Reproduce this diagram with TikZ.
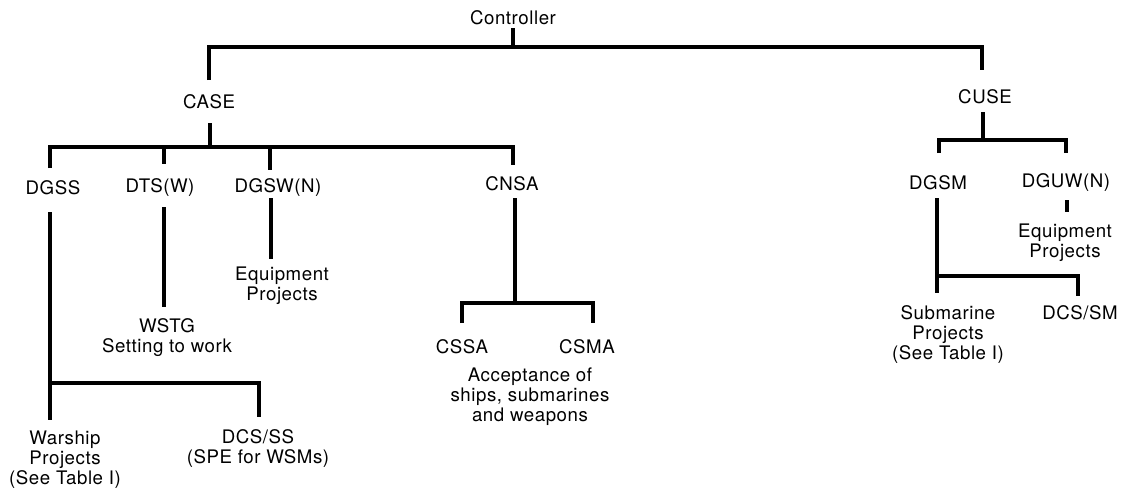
\documentclass[tikz,border=0pt]{standalone}
\usepackage{fontspec}
\setmainfont{TeX Gyre Heros}[LetterSpace=3]
\usetikzlibrary{calc}
\tikzset{
  lbl/.style={inner sep=0pt, align=center, font=\fontsize{14}{15}\selectfont},
  conn/.style={line width=2.4pt, line cap=butt, line join=miter, draw=black}
}
\begin{document}
\begin{tikzpicture}[x=0.75pt, y=-0.75pt]
\useasboundingbox (0,0) rectangle (1122,493);
% nodes
\node[lbl] (ctrl) at (513,18) {Controller};
\node[lbl] (case) at (209,102) {CASE};
\node[lbl] (cuse) at (985,97) {CUSE};
\node[lbl] (dgss) at (53,188) {DGSS};
\node[lbl] (dts) at (160,188) {DTS(W)};
\node[lbl] (dgsw) at (278,188) {DGSW(N)};
\node[lbl] (cnsa) at (512,184) {CNSA};
\node[lbl] (wstg) at (167,338) {WSTG\\Setting to work};
\node[lbl] (eq1) at (282,286) {Equipment\\Projects};
\node[lbl] (cssa) at (462,347) {CSSA};
\node[lbl] (csma) at (587,347) {CSMA};
\node[lbl] (accept) at (530,397) {Acceptance of\\ships, submarines\\and weapons};
\node[lbl] (warship) at (65,460) {Warship\\Projects\\(See Table I)};
\node[lbl] (dcsss) at (258,449) {DCS/SS\\(SPE for WSMs)};
\node[lbl] (dgsm) at (938,183) {DGSM};
\node[lbl] (dguw) at (1066,183) {DGUW(N)};
\node[lbl] (eq2) at (1065,243) {Equipment\\Projects};
\node[lbl] (sub) at (948,335) {Submarine\\Projects\\(See Table I)};
\node[lbl] (dcssm) at (1080,313) {DCS/SM};
% top level
\draw[conn] ($(ctrl)+(0,10)$) -- ($(ctrl)+(0,29)$);
\draw[conn] ($(case)+(0,-22)$) -- ($(case)+(0,-55)$) -| ($(cuse)+(-3,-27)$);
% CASE subtree
\draw[conn] ($(case)+(1,21)$) -- ($(case)+(1,45)$);
\draw[conn] ($(dgss)+(-3,-20)$) -- ($(dgss)+(-3,-41)$) -| ($(cnsa)+(1,-19)$);
\draw[conn] ($(dts)+(4,-41)$) -- ($(dts)+(4,-24)$);
\draw[conn] ($(dgsw)+(-8,-41)$) -- ($(dgsw)+(-8,-18)$);
% DGSS
\draw[conn] ($(dgss)+(-3,24)$) -- ($(warship)+(-15,-40)$);
\draw[conn] ($(warship)+(-15,-77)$) -| ($(dcsss)+(1,-32)$);
% DTS(W)
\draw[conn] ($(dts)+(4,19)$) -- ($(wstg)+(-3,-31)$);
% DGSW(N)
\draw[conn] ($(dgsw)+(-7,10)$) -- ($(eq1)+(-11,-27)$);
% CNSA
\draw[conn] ($(cnsa)+(3,14)$) -- ($(cnsa)+(3,119)$);
\draw[conn] ($(cssa)+(0,-24)$) -- ($(cssa)+(0,-44)$) -| ($(csma)+(6,-24)$);
% CUSE subtree
\draw[conn] ($(cuse)+(-2,15)$) -- ($(cuse)+(-2,43)$);
\draw[conn] ($(dgsm)+(1,-30)$) -- ($(dgsm)+(1,-43)$) -| ($(dguw)+(0,-30)$);
\draw[conn] ($(dguw)+(1,17)$) -- ($(eq2)+(2,-31)$);
\draw[conn] ($(dgsm)+(-1,15)$) -- ($(sub)+(-11,-42)$);
\draw[conn] ($(sub)+(-11,-59)$) -| ($(dcssm)+(-2,-17)$);
\end{tikzpicture}
\end{document}
